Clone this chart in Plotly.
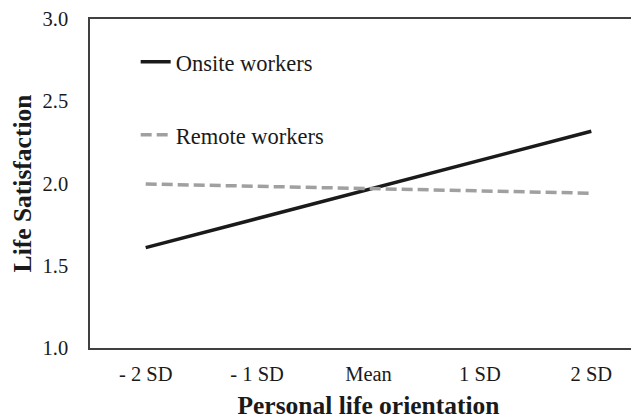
import plotly.graph_objects as go

categories = ["- 2 SD", "- 1 SD", "Mean", "1 SD", "2 SD"]
onsite = [1.61, 1.787, 1.964, 2.141, 2.318]
remote = [1.997, 1.983, 1.969, 1.955, 1.941]
y_ticks = [1.0, 1.5, 2.0, 2.5, 3.0]

font = "Liberation Serif, Times New Roman, serif"
x_idx = list(range(len(categories)))

fig = go.Figure()
fig.add_trace(go.Scatter(x=x_idx, y=onsite, mode="lines", name="Onsite workers",
                         line=dict(color="#1a1a1a", width=3.5), legend="legend"))
fig.add_trace(go.Scatter(x=x_idx, y=remote, mode="lines", name="Remote workers",
                         line=dict(color="#a0a0a0", width=3.5, dash="11px,5px"), legend="legend2"))

legend_common = dict(bgcolor="rgba(0,0,0,0)", borderwidth=0, xanchor="left", yanchor="middle",
                     font=dict(family=font, size=22.5, color="#1a1a1a"))
fig.update_layout(
    width=639, height=420,
    showlegend=True,
    margin=dict(l=82, r=0, t=11, b=80),
    paper_bgcolor="white", plot_bgcolor="white",
    font=dict(family=font, color="#1a1a1a"),
    legend=dict(x=0.082, y=0.869, **legend_common),
    legend2=dict(x=0.082, y=0.647, **legend_common),
    xaxis=dict(
        range=[-0.5, 4.5], tickvals=x_idx, ticktext=categories,
        showgrid=False, zeroline=False, showline=True, linecolor="#404040", linewidth=1.5,
        mirror=True, ticks="", ticklabelstandoff=7,
        tickfont=dict(family=font, size=20.5, color="#1a1a1a"),
        title=dict(text="<b>Personal life orientation</b>", standoff=12,
                   font=dict(family=font, size=25.5, color="#1a1a1a")),
    ),
    yaxis=dict(
        range=[1.0, 3.0], tickvals=y_ticks, ticktext=[f"{v:.1f}" for v in y_ticks],
        showgrid=False, zeroline=False, showline=True, linecolor="#404040", linewidth=1.5,
        ticks="", ticklabelstandoff=16,
        tickfont=dict(family=font, size=20.5, color="#1a1a1a"),
        title=dict(text="<b>Life Satisfaction</b>", standoff=10,
                   font=dict(family=font, size=25.5, color="#1a1a1a")),
    ),
)
fig.write_html("out.html")
